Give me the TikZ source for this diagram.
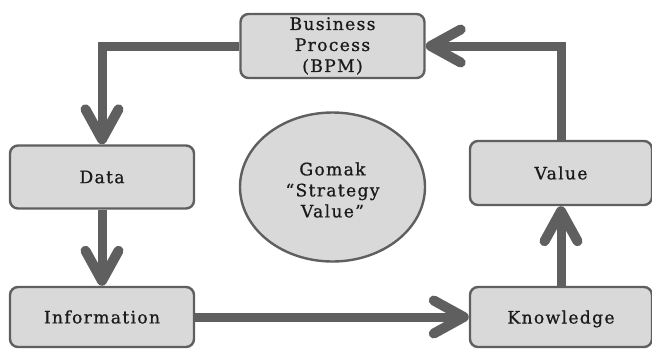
\documentclass[tikz,border=0pt]{standalone}
\usepackage{fontspec}
\setmainfont[LetterSpace=7.5,FakeBold=0.8]{DejaVu Serif}
\usetikzlibrary{arrows.meta,shapes.geometric}
\definecolor{fillg}{HTML}{D9D9D9}
\definecolor{edgeg}{HTML}{5F5F5F}
\definecolor{textg}{HTML}{1A1A1A}
\tikzset{
 x=1pt,y=-1pt,
 boxn/.style={draw=edgeg,line width=2.4pt,fill=fillg,rounded corners=8pt,align=center,text=textg,font=\fontsize{17.2}{21}\selectfont,inner sep=0pt},
 flow/.style={draw=edgeg,line width=9pt,-{Straight Barb[round,length=30pt,width=33pt,line width=10pt]}},
}
\begin{document}
\begin{tikzpicture}
\useasboundingbox (0,0) rectangle (652,349);
\node[boxn,minimum width=184pt,minimum height=64pt] (bp) at (332.5,46) {Business\\Process\\(BPM)};
\node[boxn,minimum width=184pt,minimum height=63pt] (data) at (102,177) {Data};
\node[boxn,minimum width=184pt,minimum height=60pt] (info) at (102,317) {Information};
\node[boxn,minimum width=182pt,minimum height=64pt] (val) at (561,173) {Value};
\node[boxn,minimum width=182pt,minimum height=60pt,text depth=0pt] (know) at (561,317) {Knowledge};
\node[draw=edgeg,line width=2.4pt,fill=fillg,ellipse,minimum width=185pt,minimum height=149pt,align=center,text=textg,font=\fontsize{17.2}{21}\selectfont,inner sep=0pt] (g) at (332.5,187) {\rule{0pt}{19pt}Gomak\\``Strategy\\Value''};
\draw[flow] (bp.west) -| (data.north);
\draw[flow] (data.south) -- (info.north);
\draw[flow] (info.east) -- (know.west);
\draw[flow] (know.north) -- (val.south);
\draw[flow] (val.north) |- (bp.east);
\end{tikzpicture}
\end{document}
